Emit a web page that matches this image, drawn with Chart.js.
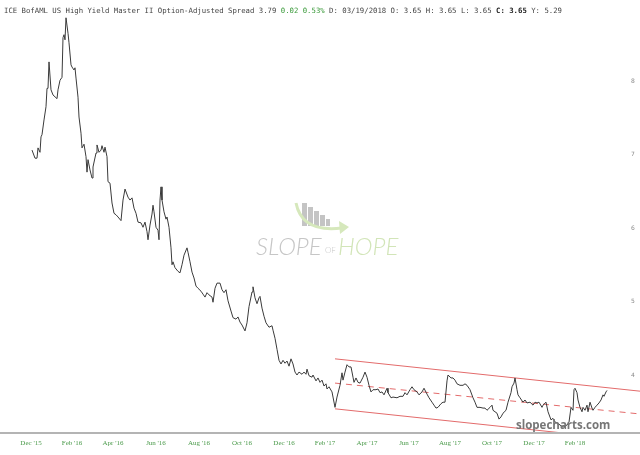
<!DOCTYPE html>
<html>
<head>
<meta charset="utf-8">
<script src="https://cdn.jsdelivr.net/npm/chart.js@4.4.0/dist/chart.umd.min.js"></script>
<style>
  html, body { margin: 0; padding: 0; background: #fff; }
  #wrap { position: relative; width: 640px; height: 455px; }
  #header { position: absolute; left: 4px; top: 6px; font: 7.3px "DejaVu Sans Mono", monospace; color: #444; white-space: pre; }
  #header .up { color: #3a9a3a; }
  #header .b { font-weight: bold; color: #222; }
</style>
</head>
<body>
<div id="wrap">
  <canvas id="grafico_hy" width="640" height="455"></canvas>
  <div id="header">ICE BofAML US High Yield Master II Option-Adjusted Spread 3.79 <span class="up">0.02 0.53%</span> D: 03/19/2018 O: 3.65 H: 3.65 L: 3.65 <span class="b">C: 3.65</span> Y: 5.29</div>
</div>
<script>
// -----------------------Dados--------------------------------------------//

// dias de pregão contados a partir do início da série
var tradingDay = [0,3,5,6,8,9,10,12,14,15,16,17,19,21,25,26,28,30,31,32,33,34,36,37,39,40,42,43,44,46,47,49,50,52,54,55,56,58,60,61,64,65,67,69,70,72,73,75,76,78,80,82,84,86,89,91,93,96,98,100,102,104,106,109,111,113,115,116,118,120,121,122,124,126,127,128,129,130,132,134,135,137,139,140,141,143,146,148,150,152,155,156,158,160,162,164,166,169,171,173,175,177,180,181,183,185,188,190,192,194,196,199,201,204,206,208,210,213,215,217,220,221,223,225,227,228,230,232,234,237,240,241,243,245,247,249,251,253,255,257,259,261,263,265,267,270,272,274,275,277,280,281,284,286,288,290,292,294,295,297,300,301,303,305,308,310,311,313,315,317,319,321,322,324,326,328,331,333,335,337,339,341,344,346,348,350,352,355,356,359,361,365,368,371,373,375,378,380,382,385,387,390,392,395,397,400,402,404,406,409,411,413,415,416,419,421,423,425,428,431,433,435,438,441,443,445,448,451,453,455,458,460,461,463,465,467,469,471,474,476,479,480,482,483,485,486,488,491,493,495,498,501,503,505,507,510,511,514,516,519,521,523,525,528,531,535,537,539,541,542,543,545,546,548,550,551,553,555,556,558,560,561,563,565,567,569,571,572,574,575];

var spread = [7.06,6.95,6.95,7.09,7.03,7.24,7.27,7.47,7.65,7.90,7.90,8.26,7.88,7.81,7.76,7.88,8.01,8.05,8.59,8.63,8.56,8.86,8.65,8.52,8.22,8.19,8.15,8.18,8.04,7.78,7.51,7.29,7.09,7.14,6.97,6.76,6.93,6.79,6.68,6.83,7.02,7.13,7.03,7.06,7.12,7.03,7.10,6.97,6.63,6.61,6.34,6.20,6.18,6.15,6.10,6.38,6.53,6.42,6.38,6.41,6.27,6.20,6.08,6.07,6.01,6.08,5.95,5.84,6.04,6.19,6.31,6.22,6.01,5.97,5.84,6.38,6.56,6.38,6.22,6.12,6.15,6.01,5.73,5.50,5.54,5.46,5.41,5.39,5.50,5.63,5.73,5.67,5.54,5.40,5.32,5.21,5.18,5.14,5.10,5.06,5.12,5.09,5.06,4.99,5.18,5.25,5.25,5.16,5.12,5.16,5.01,4.87,4.78,4.76,4.79,4.72,4.68,4.60,4.71,4.93,5.13,5.20,5.05,4.97,5.05,5.07,4.91,4.80,4.71,4.65,4.67,4.61,4.50,4.35,4.20,4.15,4.20,4.16,4.19,4.12,4.22,4.15,4.04,4.00,4.04,4.01,4.04,4.01,4.08,3.99,3.97,4.00,3.92,3.96,3.90,3.93,3.85,3.88,3.81,3.84,3.77,3.70,3.56,3.70,3.86,4.03,3.93,4.04,4.14,4.11,4.11,3.97,3.90,3.96,3.90,3.89,3.97,4.04,3.97,3.86,3.77,3.80,3.80,3.81,3.76,3.77,3.73,3.82,3.76,3.69,3.70,3.69,3.71,3.71,3.76,3.73,3.80,3.84,3.80,3.77,3.73,3.77,3.82,3.74,3.69,3.63,3.59,3.55,3.56,3.61,3.63,3.63,3.92,4.00,3.96,3.96,3.93,3.88,3.86,3.86,3.88,3.86,3.80,3.69,3.63,3.56,3.56,3.55,3.55,3.52,3.56,3.59,3.52,3.50,3.48,3.40,3.43,3.48,3.52,3.63,3.76,3.84,3.89,3.96,3.80,3.73,3.69,3.63,3.66,3.62,3.63,3.59,3.63,3.62,3.63,3.56,3.59,3.63,3.50,3.39,3.41,3.36,3.35,3.32,3.29,3.32,3.36,3.56,3.52,3.80,3.82,3.76,3.66,3.56,3.50,3.56,3.52,3.59,3.50,3.63,3.55,3.52,3.56,3.59,3.62,3.66,3.73,3.71,3.77,3.79];

// canal de tendência (início e fim)
var channelDays = [303, 608];
var channelUpper = [4.22, 3.78];
var channelMid = [3.89, 3.47];
var channelLower = [3.54, 3.10];

// eixo x: meses
var monthLabels = ["Dec '15", "Feb '16", "Apr '16", "Jun '16", "Aug '16", "Oct '16", "Dec '16", "Feb '17", "Apr '17", "Jun '17", "Aug '17", "Oct '17", "Dec '17", "Feb '18"];
var monthTickDays = [-1, 40, 81, 124, 167, 210, 252, 293, 335, 377, 418, 460, 502, 543];

// eixo y
var yTicks = [4, 5, 6, 7, 8];

// -----------------------Gráfico--------------------------------------------//

function pares(xs, ys) {
    return xs.map(function (x, i) { return { x: x, y: ys[i] }; });
}

var marcaDagua = {
    id: 'marcaDagua',
    beforeDatasetsDraw: function (chart) {
        var c = chart.ctx;
        c.save();
        // barras do logo
        c.fillStyle = '#c4c4c4';
        var barras = [[302, 203, 5], [308, 207, 5], [314, 211, 5], [320, 215, 5], [326, 219, 4]];
        barras.forEach(function (b) { c.fillRect(b[0], b[1], b[2], 226 - b[1]); });
        // arco verde
        c.strokeStyle = '#d6e8bc';
        c.lineWidth = 3;
        c.beginPath();
        c.moveTo(296, 203);
        c.quadraticCurveTo(302, 233, 342, 228);
        c.stroke();
        c.fillStyle = '#d6e8bc';
        c.beginPath();
        c.moveTo(349, 227);
        c.lineTo(339, 221);
        c.lineTo(340, 234);
        c.closePath();
        c.fill();
        // texto
        c.textBaseline = 'middle';
        c.font = 'italic 300 24px Lato';
        c.fillStyle = '#c6c6c6';
        c.fillText('SLOPE', 256, 247);
        c.font = '300 8px Lato';
        c.fillText('OF', 325, 250);
        c.font = 'italic 300 24px Lato';
        c.fillStyle = '#d2e5b8';
        c.fillText('HOPE', 338, 247);
        c.restore();
    },
    afterDatasetsDraw: function (chart) {
        var c = chart.ctx;
        c.save();
        c.font = 'bold 11.5px "Open Sans"';
        c.fillStyle = '#767676';
        c.textBaseline = 'middle';
        c.fillText('slopecharts.com', 516, 426);
        c.restore();
    }
};

var dados = {
    datasets: [{
        data: pares(tradingDay, spread),
        borderColor: '#3a3a3a',
        borderWidth: 1,
        pointRadius: 0,
        tension: 0
    }, {
        data: pares(channelDays, channelUpper),
        borderColor: '#e36b6b',
        borderWidth: 1,
        pointRadius: 0,
        clip: { left: 0, top: 0, right: 16, bottom: 0 }
    }, {
        data: pares(channelDays, channelMid),
        borderColor: '#e36b6b',
        borderWidth: 1,
        borderDash: [6, 5],
        pointRadius: 0,
        clip: { left: 0, top: 0, right: 16, bottom: 0 }
    }, {
        data: pares(channelDays, channelLower),
        borderColor: '#e36b6b',
        borderWidth: 1,
        pointRadius: 0,
        clip: { left: 0, top: 0, right: 16, bottom: 0 }
    }]
};

// eixo x da borda: linha cinza até a borda do canvas
var bordaX = {
    id: 'bordaX',
    afterDraw: function (chart) {
        var c = chart.ctx, a = chart.chartArea;
        c.save();
        c.strokeStyle = '#b4b4b4';
        c.lineWidth = 2;
        c.beginPath();
        c.moveTo(0, a.bottom);
        c.lineTo(chart.width, a.bottom);
        c.stroke();
        c.restore();
    }
};

var opcoes = {
    responsive: false,
    animation: false,
    layout: { padding: { top: 10, left: 0, right: 0, bottom: 0 } },
    plugins: { legend: { display: false }, tooltip: { enabled: false } },
    scales: {
        x: {
            type: 'linear',
            min: -32,
            max: 594,
            afterBuildTicks: function (s) { s.ticks = monthTickDays.map(function (v) { return { value: v }; }); },
            afterFit: function (s) { s.height = 22; },
            ticks: {
                autoSkip: false,
                maxRotation: 0,
                padding: 6,
                color: '#4a9a4a',
                font: { family: 'Liberation Serif', size: 7 },
                callback: function (v) { return monthLabels[monthTickDays.indexOf(v)]; }
            },
            grid: { display: false, drawTicks: false },
            border: { display: false }
        },
        y: {
            type: 'linear',
            position: 'right',
            min: 3.211,
            max: 8.966,
            afterBuildTicks: function (s) { s.ticks = yTicks.map(function (v) { return { value: v }; }); },
            afterFit: function (s) { s.width = 14; },
            ticks: {
                padding: 5,
                color: '#8a8a8a',
                font: { family: 'DejaVu Sans', size: 6 }
            },
            grid: { display: false, drawTicks: false },
            border: { display: false }
        }
    }
};

var ctx = document.getElementById("grafico_hy").getContext("2d");
var grafico_hy = new Chart(ctx, {
    type: 'line',
    data: dados,
    options: opcoes,
    plugins: [marcaDagua, bordaX]
});
</script>
</body>
</html>
